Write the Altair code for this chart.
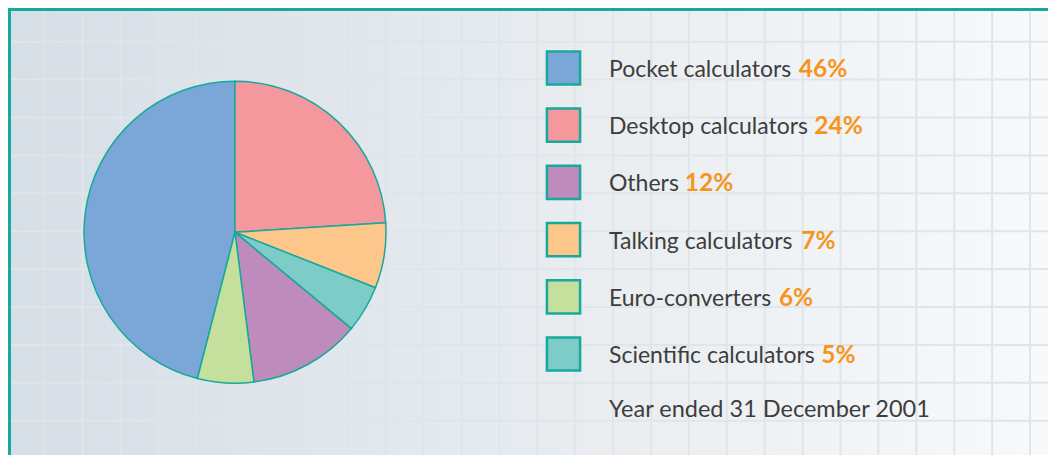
import glob
import os
import struct

import altair as alt
import pandas as pd

# ---------------- data ----------------
categories = ["Pocket calculators", "Desktop calculators", "Others",
              "Talking calculators", "Euro-converters", "Scientific calculators"]
shares = [46, 24, 12, 7, 6, 5]
pie_sequence = ["Desktop calculators", "Talking calculators", "Scientific calculators",
                "Others", "Euro-converters", "Pocket calculators"]
slice_colors = ["#7ba7d8", "#f5989d", "#bd8bbc", "#fdc68a", "#c5df9c", "#7dccc8"]
footnote = "Year ended 31 December 2001"

# ---------------- style ----------------
W, H = 1040, 447
TEAL = "#17a99b"
TEXT = "#3d3d3d"
ORANGE = "#f7941d"
GRID = "#dfe5ea"
FONT = "Lato"
LABEL_SIZE = 23
LABEL_WEIGHT = "normal"
PCT_SIZE = 24.5
NOTE_SIZE = 23.5
LABEL_X = 601
GRID_STEP = 37.9
grid_x = [529.3 + GRID_STEP * k for k in range(-13, 14)]
grid_y = [33.7 + GRID_STEP * k for k in range(0, 12)]


def _find_font(names):
    roots = ["/usr/share/fonts", "/usr/local/share/fonts",
             os.path.expanduser("~/.fonts"), os.path.expanduser("~/.local/share/fonts")]
    for name in names:
        for r in roots:
            hits = glob.glob(os.path.join(r, "**", name), recursive=True)
            if hits:
                return hits[0]
    return None


def _text_width_fn(path):
    data = open(path, "rb").read()
    u16 = lambda o: struct.unpack(">H", data[o:o + 2])[0]
    u32 = lambda o: struct.unpack(">I", data[o:o + 4])[0]
    tabs = {}
    for i in range(u16(4)):
        rec = 12 + 16 * i
        tabs[data[rec:rec + 4].decode("latin1")] = u32(rec + 8)
    upem = u16(tabs["head"] + 18)
    nhm = u16(tabs["hhea"] + 34)
    hmtx = tabs["hmtx"]
    adv = [u16(hmtx + 4 * i) for i in range(nhm)]
    cmap = tabs["cmap"]
    sub = None
    for i in range(u16(cmap + 2)):
        rec = cmap + 4 + 8 * i
        pid, eid = u16(rec), u16(rec + 2)
        off = cmap + u32(rec + 4)
        if u16(off) == 4 and (pid == 0 or (pid == 3 and eid == 1)):
            sub = off
            break
    segx2 = u16(sub + 6)
    ends = sub + 14
    starts = ends + segx2 + 2
    deltas = starts + segx2
    ranges = deltas + segx2

    def glyph(c):
        for s in range(segx2 // 2):
            if c <= u16(ends + 2 * s):
                st = u16(starts + 2 * s)
                if c < st:
                    return 0
                ro = u16(ranges + 2 * s)
                d = u16(deltas + 2 * s)
                if ro == 0:
                    return (c + d) & 0xFFFF
                g = u16(ranges + 2 * s + ro + 2 * (c - st))
                return (g + d) & 0xFFFF if g else 0
        return 0

    def width(text, size):
        return sum(adv[min(glyph(ord(ch)), nhm - 1)] for ch in text) * size / upem

    return width


try:
    _w = _text_width_fn(_find_font(["Lato-Regular.ttf"]))
except Exception:
    _w = lambda text, size: len(text) * 0.5 * size

# ---------------- tables ----------------
df = pd.DataFrame({"label": categories, "share": shares})
df["seq"] = [pie_sequence.index(c) for c in categories]
df["pct"] = [f"{s}%" for s in shares]
df["pct_x"] = [LABEL_X + _w(c + " ", LABEL_SIZE) for c in categories]

color = alt.Color("label:N", scale=alt.Scale(domain=categories, range=slice_colors), legend=None)
row = alt.Y("label:N", scale=alt.Scale(type="point", domain=categories, range=[60, 346], padding=0),
            axis=None)

one = pd.DataFrame({"k": [0]})
gradient = alt.LinearGradient(gradient="linear", x1=0, x2=1, y1=0, y2=0, stops=[
    alt.GradientStop(color="#d6dee6", offset=0),
    alt.GradientStop(color="#e5eaee", offset=0.45),
    alt.GradientStop(color="#f8f9fa", offset=1),
])
background = alt.Chart(one).mark_rect(color=gradient).encode(
    x=alt.value(0), x2=alt.value(W), y=alt.value(0), y2=alt.value(H))

vgrid = alt.Chart(pd.DataFrame({"gx": grid_x})).mark_rule(color=GRID, strokeWidth=2).encode(
    x=alt.X("gx:Q", scale=None), y=alt.value(0), y2=alt.value(H))
hgrid = alt.Chart(pd.DataFrame({"gy": grid_y})).mark_rule(color=GRID, strokeWidth=2).encode(
    y=alt.Y("gy:Q", scale=None), x=alt.value(0), x2=alt.value(W))

pie = alt.Chart(df).mark_arc(radius=151, stroke=TEAL, strokeWidth=1.5).encode(
    theta=alt.Theta("share:Q", stack=True),
    order=alt.Order("seq:Q"),
    color=color,
    x=alt.value(227),
    y=alt.value(224.2),
)

swatches = alt.Chart(df).mark_square(size=1100, opacity=1, stroke=TEAL, strokeWidth=2.5,
                                     filled=True).encode(
    x=alt.value(555.5),
    y=row,
    color=color,
)

labels = alt.Chart(df).mark_text(align="left", baseline="alphabetic", dy=9, font=FONT,
                                 fontSize=LABEL_SIZE, fontWeight=LABEL_WEIGHT, color=TEXT).encode(
    x=alt.value(LABEL_X),
    y=row,
    text="label:N",
)

pcts = alt.Chart(df).mark_text(align="left", baseline="alphabetic", dy=9, font=FONT,
                               fontSize=PCT_SIZE, fontWeight="bold", color=ORANGE).encode(
    x=alt.X("pct_x:Q", scale=None),
    y=row,
    text="pct:N",
)

note = alt.Chart(pd.DataFrame({"t": [footnote]})).mark_text(
    align="left", baseline="alphabetic", font=FONT, fontSize=NOTE_SIZE,
    fontWeight=LABEL_WEIGHT, color=TEXT
).encode(x=alt.value(LABEL_X), y=alt.value(409.3), text="t:N")

frame_left = alt.Chart(one).mark_rule(color=TEAL, strokeWidth=3).encode(
    x=alt.value(1.5), y=alt.value(0), y2=alt.value(H))
frame_top = alt.Chart(one).mark_rule(color=TEAL, strokeWidth=3).encode(
    y=alt.value(1.5), x=alt.value(0), x2=alt.value(W))

chart = alt.layer(background, vgrid, hgrid, pie, swatches, labels, pcts, note,
                  frame_left, frame_top).properties(
    width=W, height=H, padding=0, autosize=alt.AutoSizeParams(type="none"),
).configure_view(stroke=None)

chart.save("out.html", embed_options={"renderer": "svg", "actions": False})
